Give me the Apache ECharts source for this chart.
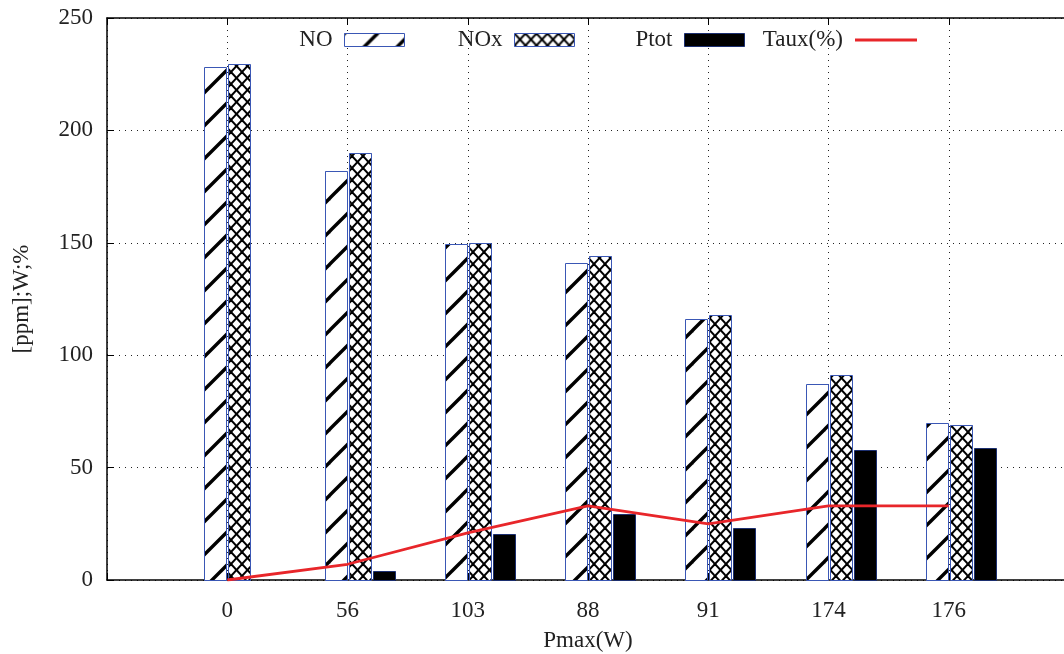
<!DOCTYPE html>
<html>
<head>
<meta charset="utf-8">
<script src="https://cdn.jsdelivr.net/npm/echarts@6/dist/echarts.min.js"></script>
<style>
html,body{margin:0;padding:0;background:#fff;}
#chart{width:1064px;height:654px;}
</style>
</head>
<body>
<div id="chart"></div>
<script>
const categories = ['0', '56', '103', '88', '91', '174', '176'];
const noValues   = [228, 182, 149.5, 141, 116, 87, 70];
const noxValues  = [229.5, 190, 150, 144, 118, 91, 69];
const ptotValues = [0, 4, 20.5, 29.5, 23, 58, 58.5];
const tauxValues = [0, 7, 21, 33, 25, 33, 33];
const yTicks = [0, 50, 100, 150, 200, 250];

const FONT = '"Liberation Serif", "DejaVu Serif", serif';
const BORDER = '#3a57b5';

function makeSlashPattern() {
  const P = 33;
  const c = document.createElement('canvas');
  c.width = P; c.height = P;
  const g = c.getContext('2d');
  g.fillStyle = '#fff'; g.fillRect(0, 0, P, P);
  g.strokeStyle = '#000'; g.lineWidth = 3.4; g.lineCap = 'butt';
  for (let k = -1; k <= 1; k++) {
    g.beginPath();
    g.moveTo(-10, P + k * P + 10);
    g.lineTo(P + 10, k * P - 10);
    g.stroke();
  }
  return c;
}
function makeCrossPattern() {
  const W = 11, H = 12;
  const c = document.createElement('canvas');
  c.width = W; c.height = H;
  const g = c.getContext('2d');
  g.fillStyle = '#fff'; g.fillRect(0, 0, W, H);
  g.strokeStyle = '#000'; g.lineWidth = 2;
  for (let dx = -W; dx <= W; dx += W) {
    for (let dy = -H; dy <= H; dy += H) {
      g.beginPath(); g.moveTo(dx, dy); g.lineTo(dx + W, dy + H); g.stroke();
      g.beginPath(); g.moveTo(dx, dy + H); g.lineTo(dx + W, dy); g.stroke();
    }
  }
  return c;
}
const slashFill = { image: makeSlashPattern(), repeat: 'repeat' };
const crossFill = { image: makeCrossPattern(), repeat: 'repeat' };

function toPairs(arr) { return arr.map((v, i) => [i, v]); }

function barRenderer(leftOff, width, fill, stroke) {
  return function (params, api) {
    const x = api.value(0), y = api.value(1);
    if (!y) return null;
    const top = api.coord([x, y]);
    const base = api.coord([x, 0]);
    return {
      type: 'rect',
      shape: { x: Math.round(top[0]) + leftOff + 0.5, y: Math.round(top[1]) + 0.5, width: width, height: Math.round(base[1]) - Math.round(top[1]) },
      style: { fill: fill, stroke: stroke, lineWidth: 1 }
    };
  };
}

const axisText = { fontFamily: FONT, fontSize: 23, color: '#222' };
const dotted = { color: '#222', width: 1, type: [1, 5] };

function legendAt(right, item, opts) {
  return Object.assign({
    right: right, top: 28, padding: 0, orient: 'horizontal', align: 'right',
    itemWidth: 60, itemHeight: 13, icon: 'rect', selectedMode: false,
    textStyle: { fontFamily: FONT, fontSize: 23, color: '#222', padding: [0, 7, 0, 0], lineHeight: 24 },
    data: [item]
  }, opts || {});
}

const chart = echarts.init(document.getElementById('chart'), null, { renderer: 'canvas' });
chart.setOption({
  animation: false,
  backgroundColor: '#fff',
  grid: { left: 107, top: 18, right: -5, bottom: 74, containLabel: false, outerBoundsMode: 'none' },
  legend: [
    legendAt(659, { name: 'NO', itemStyle: { color: slashFill, borderColor: BORDER, borderWidth: 1 } }),
    legendAt(489, { name: 'NOx', itemStyle: { color: crossFill, borderColor: BORDER, borderWidth: 1 } }),
    legendAt(319, { name: 'Ptot', itemStyle: { color: '#000', borderColor: '#1c2f70', borderWidth: 1 } }),
    legendAt(147, { name: 'Taux(%)', itemStyle: { color: '#e8262a', borderWidth: 0 } }, { itemWidth: 62, itemHeight: 3 })
  ],
  xAxis: [
    {
      type: 'value', min: -1, max: 7, interval: 1, position: 'bottom',
      name: 'Pmax(W)', nameLocation: 'middle', nameGap: 49,
      nameTextStyle: axisText,
      axisLine: { show: true, onZero: false, lineStyle: { color: '#000', width: 1.5 } },
      axisTick: { show: true, inside: true, length: 7, lineStyle: { color: '#000' } },
      axisLabel: Object.assign({ margin: 19, formatter: v => (categories[v] !== undefined ? categories[v] : '') }, axisText),
      splitLine: { show: true, lineStyle: dotted }
    },
    {
      type: 'value', min: -1, max: 7, interval: 1, position: 'top',
      axisLine: { show: true, onZero: false, lineStyle: { color: '#000', width: 1.5 } },
      axisTick: { show: true, inside: true, length: 7, lineStyle: { color: '#000' } },
      axisLabel: { show: false },
      splitLine: { show: false }
    }
  ],
  yAxis: [
    {
      type: 'value', min: yTicks[0], max: yTicks[yTicks.length - 1], interval: 50,
      name: '[ppm];W;%', nameLocation: 'middle', nameGap: 74, nameRotate: 90,
      nameTextStyle: axisText,
      axisLine: { show: true, onZero: false, lineStyle: { color: '#000', width: 1.5 } },
      axisTick: { show: true, inside: true, length: 7, lineStyle: { color: '#000' } },
      axisLabel: Object.assign({ margin: 14 }, axisText),
      splitLine: { show: true, lineStyle: dotted }
    }
  ],
  series: [
    { name: 'NO', type: 'custom', xAxisIndex: 0, yAxisIndex: 0, data: toPairs(noValues), z: 3,
      itemStyle: { color: slashFill }, renderItem: barRenderer(-23, 22, slashFill, BORDER) },
    { name: 'NOx', type: 'custom', xAxisIndex: 0, yAxisIndex: 0, data: toPairs(noxValues), z: 3,
      itemStyle: { color: crossFill }, renderItem: barRenderer(1, 22, crossFill, BORDER) },
    { name: 'Ptot', type: 'custom', xAxisIndex: 0, yAxisIndex: 0, data: toPairs(ptotValues), z: 3,
      itemStyle: { color: '#000' }, renderItem: barRenderer(25, 22, '#000', '#1c2f70') },
    { name: 'Taux(%)', type: 'line', xAxisIndex: 0, yAxisIndex: 0, data: toPairs(tauxValues), z: 6,
      symbol: 'none', lineStyle: { color: '#e8262a', width: 2.8 }, itemStyle: { color: '#e8262a' } }
  ]
});
</script>
</body>
</html>
